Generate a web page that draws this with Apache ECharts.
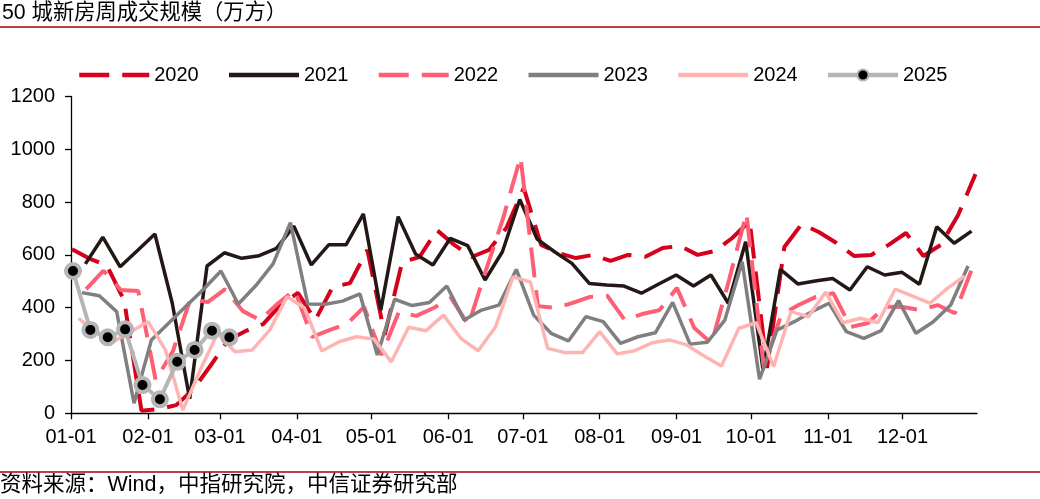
<!DOCTYPE html>
<html><head><meta charset="utf-8">
<script src="https://cdn.jsdelivr.net/npm/echarts@6/dist/echarts.min.js"></script>
<style>html,body{margin:0;padding:0;background:#fff}#c{width:1040px;height:499px}</style>
</head><body><div id="c"></div>
<script>
// x axis: day of year (0 = 01-01), ticks at month starts
const monthTickDays = [0, 31, 60, 91, 121, 152, 182, 213, 244, 274, 305, 335];
const monthTickLabels = ['01-01','02-01','03-01','04-01','05-01','06-01','07-01','08-01','09-01','10-01','11-01','12-01'];
const seriesNames = ['2020', '2021', '2022', '2023', '2024', '2025'];
// day of year of each series' first weekly observation
const firstObsDay = [0.4, 5.8, 6.1, 4.4, 3.05, 0.8];
const weekStepDays = 7;

const v2020 = [621, 586, 561, 428, 10, 16, 31, 92, 183, 278, 312, 338, 410, 456, 353, 478, 493, 619, 297, 573, 592, 694, 638, 592, 619, 702, 853, 638, 607, 588, 600, 577, 600, 593, 626, 634, 600, 615, 664, 728, 172, 630, 717, 686, 645, 596, 600, 638, 683, 596, 638, 751, 906];
const v2021 = [566, 667, 555, 617, 679, 417, 55, 558, 608, 587, 597, 625, 709, 562, 638, 638, 755, 391, 745, 603, 562, 663, 635, 505, 612, 810, 660, 612, 568, 492, 486, 482, 455, 490, 524, 482, 524, 417, 650, 164, 545, 490, 501, 511, 467, 555, 524, 534, 489, 707, 644, 690];
const v2022 = [470, 540, 467, 463, 126, 236, 433, 421, 470, 388, 353, 414, 467, 289, 315, 338, 403, 221, 384, 369, 399, 437, 335, 540, 739, 971, 406, 399, 418, 441, 445, 353, 376, 391, 475, 323, 266, 505, 758, 175, 372, 410, 441, 455, 327, 342, 404, 403, 391, 410, 379, 550];
const v2023 = [457, 445, 385, 38, 278, 342, 406, 470, 539, 414, 483, 566, 722, 414, 413, 425, 452, 221, 432, 408, 420, 482, 353, 391, 410, 545, 372, 303, 274, 366, 347, 265, 290, 305, 420, 262, 269, 353, 574, 129, 315, 347, 385, 417, 309, 284, 313, 427, 303, 347, 410, 558];
const v2024 = [360, 305, 271, 309, 347, 240, 12, 164, 303, 233, 240, 315, 442, 399, 236, 271, 290, 281, 195, 326, 313, 372, 284, 237, 328, 517, 498, 246, 230, 230, 309, 225, 237, 267, 278, 259, 217, 179, 322, 343, 177, 385, 366, 459, 343, 360, 343, 470, 444, 417, 473, 520];
const v2025 = [539, 316, 288, 318, 107, 53, 195, 240, 313, 288];

const allValues = [v2020, v2021, v2022, v2023, v2024, v2025];
function toPoints(start, vals) { return vals.map((v, i) => [start + weekStepDays * i, v]); }

const FONT = '"Liberation Sans", Arial, "Noto Sans CJK SC", sans-serif';
const styles = [
  { color: '#d5001b', type: [30, 13], width: 4 },
  { color: '#231815', type: 'solid', width: 3.5 },
  { color: '#ff5f74', type: [30, 13], width: 4 },
  { color: '#7f7f7f', type: 'solid', width: 3.5 },
  { color: '#ffb4b4', type: 'solid', width: 3.5 },
  { color: '#b5b5b5', type: 'solid', width: 4 }
];

const series = seriesNames.map((name, k) => ({
  name: name,
  type: 'line',
  data: toPoints(firstObsDay[k], allValues[k]),
  showSymbol: k === 5,
  symbol: 'circle',
  symbolSize: 14,
  lineStyle: { color: styles[k].color, type: styles[k].type, width: styles[k].width },
  itemStyle: k === 5 ? { color: '#000', borderColor: '#b5b5b5', borderWidth: 4 } : { color: styles[k].color },
  animation: false,
  z: 2 + k
}));

const legendData = seriesNames.map((name, k) => k === 5 ? { name: name } : { name: name, itemStyle: { opacity: 0 } });

const chart = echarts.init(document.getElementById('c'), null, { renderer: 'canvas' });
chart.setOption({
  animation: false,
  backgroundColor: '#fff',
  grid: { left: 71, right: 63, top: 96.5, bottom: 85.7, containLabel: false },
  legend: {
    left: 72, top: 60,
    itemWidth: 70, itemHeight: 14, itemGap: 28,
    lineStyle: { width: 4.5 },
    textStyle: { fontSize: 20, color: '#000', fontFamily: FONT },
    data: legendData
  },
  xAxis: {
    type: 'value', min: 0, max: 365,
    splitLine: { show: false },
    axisLine: { show: true, lineStyle: { color: '#000', width: 1.3 } },
    axisTick: { show: true, length: 6, lineStyle: { color: '#000', width: 1.3 }, customValues: monthTickDays },
    axisLabel: {
      customValues: monthTickDays,
      margin: 14, fontSize: 20, color: '#000', fontFamily: FONT,
      formatter: function (val) { const i = monthTickDays.indexOf(Math.round(val)); return i >= 0 ? monthTickLabels[i] : ''; }
    }
  },
  yAxis: {
    type: 'value', min: 0, max: 1200, interval: 200,
    splitLine: { show: false },
    axisLine: { show: true, lineStyle: { color: '#000', width: 1.3 } },
    axisTick: { show: true, length: 6, inside: false, lineStyle: { color: '#000', width: 1.3 } },
    axisLabel: { margin: 16, fontSize: 20, color: '#000', fontFamily: FONT, formatter: function (v) { return String(v); } }
  },
  series: series,
  graphic: [
    { type: 'text', left: 2, top: 2, style: { text: '50 城新房周成交规模（万方）', fontSize: 21.3, fill: '#000', fontFamily: FONT } },
    { type: 'line', shape: { x1: 0, y1: 27, x2: 1040, y2: 27 }, style: { stroke: '#b00000', lineWidth: 1.5 } },
    { type: 'line', shape: { x1: 0, y1: 472, x2: 1040, y2: 472 }, style: { stroke: '#b00000', lineWidth: 1.5 } },
    { type: 'text', left: 0, top: 474, style: { text: '资料来源：Wind，中指研究院，中信证券研究部', fontSize: 21.5, fill: '#000', fontFamily: FONT } }
  ]
});
</script></body></html>
